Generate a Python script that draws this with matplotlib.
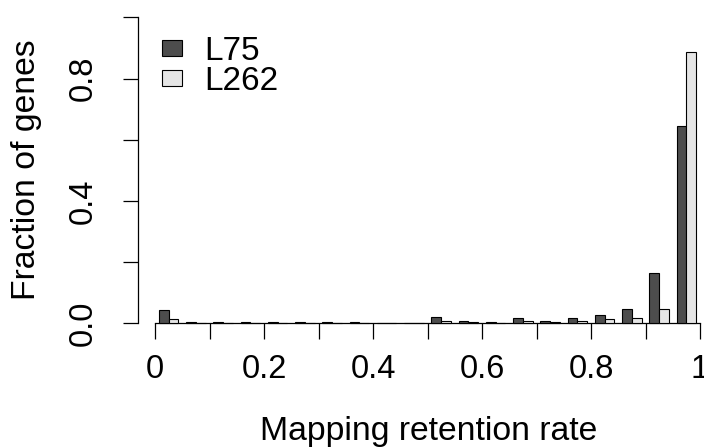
import numpy as np
import matplotlib
matplotlib.use("Agg")
import matplotlib.pyplot as plt
from matplotlib.patches import Rectangle

plt.rcParams['font.family'] = ['Liberation Sans', 'DejaVu Sans']

# ---- data ----
bin_left = [0.00, 0.05, 0.10, 0.15, 0.20, 0.25, 0.30, 0.35, 0.40, 0.45,
            0.50, 0.55, 0.60, 0.65, 0.70, 0.75, 0.80, 0.85, 0.90, 0.95]
L75 = [0.042, 0.002, 0.002, 0.002, 0.002, 0.002, 0.002, 0.002, 0.001, 0.001,
       0.019, 0.005, 0.002, 0.016, 0.005, 0.015, 0.027, 0.046, 0.165, 0.644]
L262 = [0.014, 0.001, 0.001, 0.001, 0.001, 0.001, 0.001, 0.001, 0.001, 0.001,
        0.006, 0.002, 0.001, 0.007, 0.002, 0.008, 0.012, 0.015, 0.045, 0.886]
series_names = ["L75", "L262"]
series_colors = ["#4d4d4d", "#e5e5e5"]
xticks = [0.0, 0.1, 0.2, 0.3, 0.4, 0.5, 0.6, 0.7, 0.8, 0.9, 1.0]
xticklabels = ["0", "", "0.2", "", "0.4", "", "0.6", "", "0.8", "", "1"]
yticks = [0.0, 0.2, 0.4, 0.6, 0.8, 1.0]
yticklabels = ["0.0", "", "0.4", "", "0.8", ""]
xlabel = "Mapping retention rate"
ylabel = "Fraction of genes"

W, H = 704, 448
fig = plt.figure(figsize=(W / 100, H / 100), dpi=100)

# axes geometry in pixels
ax_l, ax_r, ax_b, ax_t = 138, 700, 323, 17.5
ax = fig.add_axes([ax_l / W, (H - ax_b) / H, (ax_r - ax_l) / W, (ax_b - ax_t) / H])
x0 = 155
xmin = (ax_l - x0) / (ax_r - x0)
ax.set_xlim(xmin, 1.0)
ax.set_ylim(0, 1.0)

bw = 0.0178
centers = np.array(bin_left) + 0.025
ax.bar(centers - bw / 2, L75, width=bw, color=series_colors[0], edgecolor="black",
       linewidth=0.8, clip_on=False, zorder=3)
ax.bar(centers + bw / 2, L262, width=bw, color=series_colors[1], edgecolor="black",
       linewidth=0.8, clip_on=False, zorder=3)

for s in ["top", "right"]:
    ax.spines[s].set_visible(False)
ax.spines["left"].set_bounds(0, 1.0)
ax.spines["bottom"].set_bounds(0, 1.0)
for s in ["left", "bottom"]:
    ax.spines[s].set_linewidth(0.9)

fs = 23.5
ax.set_xticks(xticks)
ax.set_xticklabels(xticklabels, fontsize=fs)
ax.set_yticks(yticks)
ax.set_yticklabels(yticklabels, fontsize=fs, rotation=90, va="center")
ax.tick_params(axis="x", length=11.5, width=0.9, pad=11)
ax.tick_params(axis="y", length=11, width=0.9, pad=17)

fig.text(428.5 / W, (H - 440) / H, xlabel, fontsize=24.3, ha="center", va="baseline")
fig.text(27 / W, 1 - 170 / H, ylabel, fontsize=24.3, ha="center", va="center", rotation=90)

# legend (drawn manually in pixel positions)
sq_w, sq_h = 20, 16.5
baselines = [60.5, 90]
for i, (name, col) in enumerate(zip(series_names, series_colors)):
    top = 40 + i * 30
    fig.add_artist(Rectangle((162 / W, (H - top - sq_h) / H), sq_w / W, sq_h / H,
                             transform=fig.transFigure, facecolor=col,
                             edgecolor="black", linewidth=0.8))
    fig.text(204 / W, 1 - baselines[i] / H, name, fontsize=24,
             ha="left", va="baseline")

fig.savefig("out.png", dpi=100)
